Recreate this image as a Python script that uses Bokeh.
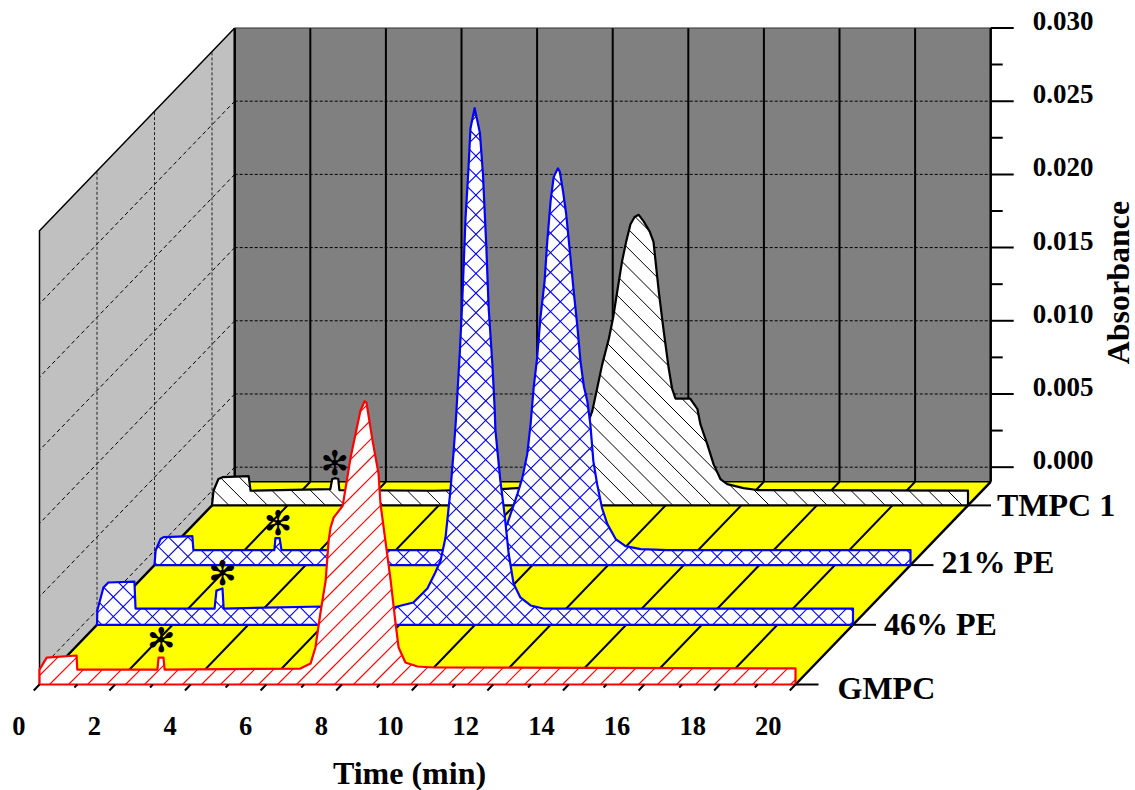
from bokeh.plotting import figure
from bokeh.models import Range1d
from bokeh.core.properties import value
from bokeh.embed import file_html
from bokeh.resources import INLINE
import numpy as np

# ---- chart data (time in min, absorbance in 1e-3 units) ----
series_names = ["GMPC", "46% PE", "21% PE", "TMPC 1"]
gmpc_t = [0, 0.19, 0.98, 1.0, 3.12, 3.15, 3.28, 3.31, 6.9, 7.17, 7.30, 7.43, 7.57, 7.65, 7.70, 7.78, 8.02, 8.23, 8.49,
          8.60, 8.65, 8.81, 8.97, 9.02, 9.21, 9.29, 9.42, 9.50, 9.68, 10.0, 10.42, 20]
gmpc_a = [0.02, 0.84, 0.98, 0.02, 0.02, 0.84, 0.84, 0.02, 0.09, 0.43, 1.53, 3.85, 6.10, 8.84, 9.72, 10.4, 11.2, 14.5, 17.7,
          18.35, 18.26, 15.67, 13.4, 11.36, 7.67, 6.10, 3.17, 1.53, 0.50, 0.23, 0.16, 0.10]
pe46_t = [0.01, 0.17, 0.30, 0.99, 1.02, 3.11, 3.16, 3.32, 3.35, 5.97, 7.84, 8.37, 8.74, 8.95, 9.09, 9.22, 9.35, 9.43, 9.49,
          9.54, 9.60, 9.66, 9.75, 9.82, 9.88, 9.99, 10.13, 10.21, 10.30, 10.36, 10.46, 10.52, 10.54, 10.67, 10.78, 10.89,
          11.02, 11.2, 11.47, 11.81, 20]
pe46_a = [0.0, 1.55, 1.89, 1.95, 0.11, 0.11, 1.34, 1.48, 0.11, 0.25, 0.18, 0.52, 1.48, 2.57, 3.39, 4.96, 8.17, 10.7, 12.8,
          15.0, 17.7, 20.9, 26.8, 29.8, 32.9, 34.3, 32.6, 29.8, 24.8, 20.7, 16.8, 13.8, 12.3, 8.86, 6.6, 3.87,
          1.82, 0.87, 0.32, 0.11, 0.11]
pe21_t = [0.03, 0.16, 0.24, 1.0, 1.03, 3.17, 3.20, 3.31, 3.36, 7.83, 8.62, 9.02, 9.33, 9.6, 9.73, 9.86, 9.95, 10.03, 10.12,
          10.21, 10.32, 10.39, 10.48, 10.56, 10.67, 10.72, 10.81, 10.89, 10.99, 11.09, 11.18, 11.27, 11.36, 11.45, 11.53,
          11.61, 11.71, 11.84, 11.98, 12.2, 12.46, 12.86, 13.57, 20]
pe21_a = [0.0, 0.78, 0.91, 0.98, 0.02, 0.02, 0.84, 0.84, 0.02, 0.02, 0.30, 0.84, 1.80, 3.85, 4.94, 6.58, 8.63, 11.1, 13.1,
          15.9, 18.4, 21.1, 23.9, 25.5, 26.1, 25.9, 24.5, 23.0, 20.4, 17.7, 15.5, 12.9, 11.2, 10.2, 8.63,
          6.1, 4.53, 2.89, 1.8, 0.78, 0.30, 0.09, 0.02, 0.02]
tmpc_t = [0.04, 0.17, 0.28, 0.97, 1.02, 3.13, 3.18, 3.27, 3.34, 3.37, 5.86, 7.63, 8.07, 8.69, 9.22, 9.62, 10.06, 10.19, 10.32,
          10.5, 10.61, 10.72, 10.85, 10.96, 11.07, 11.18, 11.29, 11.42, 11.58, 11.68, 11.75, 11.82, 11.95, 12.08, 12.17, 12.26, 12.44,
          12.65, 12.84, 12.92, 13.1, 13.27, 13.45, 13.63, 14.06, 14.42, 20]
tmpc_a = [0.0, 0.80, 0.93, 1.0, 0.0, 0.11, 0.80, 0.86, 0.80, 0.05, 0.0, 0.11, 0.18, 0.25, 0.80, 2.37, 5.44, 7.0, 8.6,
          10.4, 11.8, 13.6, 15.7, 17.05, 18.2, 18.7, 18.85, 18.4, 17.7, 17.0, 15.3, 13.6, 10.9, 8.4, 7.0, 6.3, 6.3,
          6.3, 5.6, 4.55, 3.2, 1.8, 0.8, 0.45, 0.18, 0.05, 0.01]
star_times = [3.22, 3.32, 3.27, 3.25]
star_tops = [1.0, 1.48, 0.84, 0.86]

time_ticks_major = [0, 2, 4, 6, 8, 10, 12, 14, 16, 18, 20]
time_ticks_minor = [1, 3, 5, 7, 9, 11, 13, 15, 17, 19]
abs_ticks_major = [0.0, 5.0, 10.0, 15.0, 20.0, 25.0, 30.0]
abs_ticks_minor = [2.5, 7.5, 12.5, 17.5, 22.5, 27.5]
abs_labels = ["0.000", "0.005", "0.010", "0.015", "0.020", "0.025", "0.030"]

# ---- projection (layout) ----
X0, Y0, SX, SY, DX, DY = 39.0, 684.0, 37.8, 14.64, 57.5, 59.7
A_MIN, A_MAX, T_MAX, Z_BACK = -1.0, 30.0, 20.0, 3.395
FONT = value("Liberation Serif")


def px(t, z=0.0):
    return X0 + SX * np.asarray(t, dtype=float) + DX * np.asarray(z, dtype=float)


def py(a, z=0.0):
    return Y0 - DY * np.asarray(z, dtype=float) - SY * (np.asarray(a, dtype=float) - A_MIN)


def hatch_lines(x, y, sign, phase, step):
    """Lines x + sign*y = c at a fixed step, clipped to the polygon (x, y)."""
    u = x + sign * y
    x2, y2, u2 = np.roll(x, -1), np.roll(y, -1), np.roll(u, -1)
    first = np.ceil((u.min() - phase) / step)
    last = np.floor((u.max() - phase) / step)
    x0s, y0s, x1s, y1s = [], [], [], []
    for k in np.arange(first, last + 1):
        c = phase + k * step + 1e-6
        hit = (u - c) * (u2 - c) < 0
        f = (c - u[hit]) / (u2[hit] - u[hit])
        hx = x[hit] + f * (x2[hit] - x[hit])
        hy = y[hit] + f * (y2[hit] - y[hit])
        order = np.argsort(hx)
        hx, hy = hx[order], hy[order]
        for i in range(0, len(hx) - 1, 2):
            x0s.append(hx[i]); y0s.append(hy[i]); x1s.append(hx[i + 1]); y1s.append(hy[i + 1])
    return x0s, y0s, x1s, y1s


p = figure(width=1135, height=790, output_backend="svg", toolbar_location=None,
           x_range=Range1d(0, 1135), y_range=Range1d(790, 0),
           min_border=0, outline_line_color=None, background_fill_color="white")
p.axis.visible = False
p.xaxis.visible = False
p.yaxis.visible = False
p.grid.visible = False

# walls + floor
p.patch(px([0, T_MAX, T_MAX, 0], Z_BACK), py([A_MIN, A_MIN, A_MAX, A_MAX], Z_BACK), fill_color="#808080", line_color=None)
p.patch(px([0, 0, 0, 0], [0, Z_BACK, Z_BACK, 0]), py([A_MIN, A_MIN, A_MAX, A_MAX], [0, Z_BACK, Z_BACK, 0]),
        fill_color="#C0C0C0", line_color=None)
p.patch(px([0, T_MAX, T_MAX, 0], [0, 0, Z_BACK, Z_BACK]), py([A_MIN] * 4, [0, 0, Z_BACK, Z_BACK]),
        fill_color="#FFFF00", line_color=None)

# grid on back wall / left wall
ev = np.array(time_ticks_major, dtype=float)
majA = np.array(abs_ticks_major)
p.segment(px(ev[1:-1], Z_BACK), py(A_MIN, Z_BACK) + 0 * ev[1:-1], px(ev[1:-1], Z_BACK), py(A_MAX, Z_BACK) + 0 * ev[1:-1],
          line_color="black", line_width=2)
p.segment(px(0 * majA[:-1], Z_BACK), py(majA[:-1], Z_BACK), px(0 * majA[:-1] + T_MAX, Z_BACK), py(majA[:-1], Z_BACK),
          line_color="black", line_width=1, line_dash="3 2")
p.segment(px(0 * majA[:-1], Z_BACK), py(majA[:-1], Z_BACK), px(0 * majA[:-1], 0), py(majA[:-1], 0),
          line_color="black", line_width=1, line_dash="4 3")
zs = np.array([1.0, 2.0, 3.0])
p.segment(px(0 * zs, zs), py(A_MIN + 0 * zs, zs), px(0 * zs, zs), py(A_MAX + 0 * zs, zs),
          line_color="#222222", line_width=1, line_dash="3 2")
# floor grid
p.segment(px(ev[1:-1], 0), py(A_MIN + 0 * ev[1:-1], 0), px(ev[1:-1], Z_BACK), py(A_MIN + 0 * ev[1:-1], Z_BACK),
          line_color="black", line_width=2)
# frame lines
p.line(px([0, 0, 0], [0, 0, Z_BACK]), py([A_MIN, A_MAX, A_MAX], [0, 0, Z_BACK]), line_color="black", line_width=1.5)
p.line(px([0, 0], [Z_BACK, Z_BACK]), py([A_MIN, A_MAX], Z_BACK), line_color="black", line_width=2.5)
p.line(px([0, T_MAX], Z_BACK), py([A_MAX, A_MAX], Z_BACK), line_color="#333333", line_width=1)
p.line(px([0, 0], [0, Z_BACK]), py([A_MIN, A_MIN], [0, Z_BACK]), line_color="black", line_width=2.5)
p.line(px([T_MAX, T_MAX], [0, Z_BACK]), py([A_MIN, A_MIN], [0, Z_BACK]), line_color="black", line_width=2.5)
p.line(px([0, T_MAX], Z_BACK), py([A_MIN, A_MIN], Z_BACK), line_color="black", line_width=1.5)
# right absorbance axis
p.line(px([T_MAX, T_MAX], Z_BACK), py([A_MIN, A_MAX], Z_BACK), line_color="black", line_width=2.5)
R = px(T_MAX, Z_BACK)
minA = np.array(abs_ticks_minor)
p.segment(R + 0 * majA, py(majA, Z_BACK), R + 23 + 0 * majA, py(majA, Z_BACK), line_color="black", line_width=2)
p.segment(R + 0 * minA, py(minA, Z_BACK), R + 12 + 0 * minA, py(minA, Z_BACK), line_color="black", line_width=2)
p.text(R + 72.5 + 0 * majA, py(majA, Z_BACK) - 7, text=abs_labels, text_font=FONT, text_font_style="bold",
       text_font_size="27px", text_align="center", text_baseline="middle", text_color="black")

# series, back to front: (depth, t, a, colour, [(direction, phase), ...], hatch weight, hatch step)
styles = [
    (3, tmpc_t, tmpc_a, "black", [(-1, 457.0)], 1.0, 19.3),
    (2, pe21_t, pe21_a, "blue", [(1, 1449.0), (-1, 337.0)], 1.1, 19.6),
    (1, pe46_t, pe46_a, "blue", [(1, 1454.0), (-1, 222.0)], 1.1, 19.6),
    (0, gmpc_t, gmpc_a, "red", [(1, 733.0)], 1.1, 19.0),
]
for z, t, a, col, families, weight, step in styles:
    xs = px(np.concatenate([[0.0], t, [T_MAX]]), z)
    ys = py(np.concatenate([[A_MIN], a, [A_MIN]]), z)
    p.patch(xs, ys, fill_color="white", line_color=None)
    for sign, phase in families:
        x0s, y0s, x1s, y1s = hatch_lines(xs, ys, sign, phase, step)
        p.segment(x0s, y0s, x1s, y1s, line_color=col, line_width=weight)
    p.patch(xs, ys, fill_alpha=0, line_color=col, line_width=2.2, line_join="round")
    p.text(px([star_times[z]], z), py([star_tops[z]], z) - 15, text=["\u273b"],
           text_font=value("DejaVu Sans"), text_font_size="34px", text_align="center", text_baseline="middle",
           text_color="black")

# bottom time ticks + labels
evf = np.array(time_ticks_major, dtype=float)
odd = np.array(time_ticks_minor, dtype=float)
p.segment(px(evf, 0), py(A_MIN + 0 * evf, 0), px(evf, -0.1), py(A_MIN + 0 * evf, -0.1), line_color="black", line_width=2)
p.segment(px(odd, 0), py(A_MIN + 0 * odd, 0), px(odd, -0.05), py(A_MIN + 0 * odd, -0.05), line_color="black", line_width=2)
p.text(px(evf, 0) - 14, py(A_MIN + 0 * evf, 0) + 41, text=[str(int(v)) for v in evf], text_font=FONT, text_font_style="bold",
       text_font_size="26.5px", text_align="right", text_baseline="middle", text_color="black")

# series ticks + labels
zz = np.arange(4, dtype=float)
ex = px(T_MAX + 0 * zz, zz)
ey = py(A_MIN + 0 * zz, zz)
p.segment(ex, ey, ex + 23, ey, line_color="black", line_width=2)
p.text(ex + np.array([42.0, 31.0, 31.0, 29.0]), ey + np.array([3.0, -1.0, -3.0, 0.0]), text=series_names, text_font=FONT,
       text_font_style="bold", text_font_size="32px", text_align="left", text_baseline="middle", text_color="black")

# axis titles
p.text([409], [772], text=["Time (min)"], text_font=FONT, text_font_style="bold", text_font_size="32px",
       text_align="center", text_baseline="middle", text_color="black")
p.text([1117.5], [282], text=["Absorbance"], angle=[np.pi / 2], text_font=FONT, text_font_style="bold", text_font_size="32px",
       text_align="center", text_baseline="middle", text_color="black")

open("out.html", "w").write(file_html(p, INLINE))
